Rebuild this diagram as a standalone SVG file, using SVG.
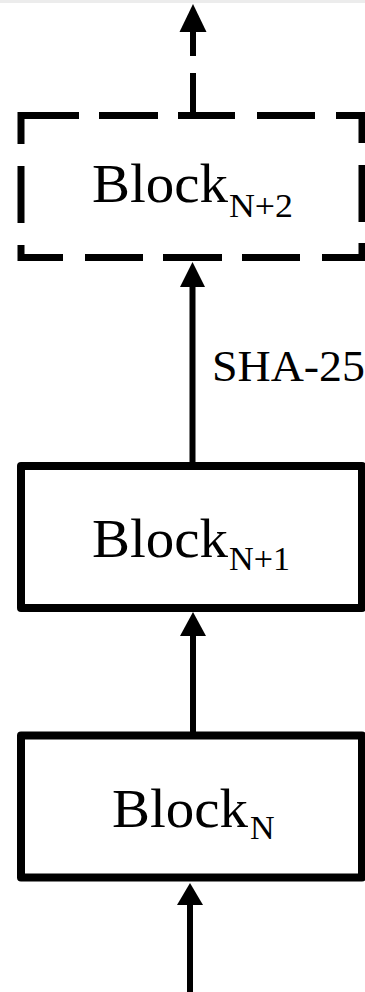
<svg xmlns="http://www.w3.org/2000/svg" width="365" height="992" viewBox="0 0 365 992">
<style>
.box{fill:none;stroke:#000;stroke-width:8;stroke-linejoin:round}
.dash{fill:none;stroke:#000;stroke-width:7;stroke-linecap:butt;stroke-linejoin:miter}
.shaft{fill:none;stroke:#000;stroke-width:6}
.head{fill:#000;stroke:none}
.lbl{font-family:"Liberation Serif","Times New Roman",serif;font-size:54px;fill:#000}
.sub{font-family:"Liberation Serif","Times New Roman",serif;font-size:34px;fill:#000}
.edge{font-family:"Liberation Serif","Times New Roman",serif;font-size:44px;fill:#000}
</style>
<rect x="0" y="0" width="365" height="992" fill="#fff"/>
<rect x="0" y="0" width="365" height="3" fill="#ececec"/>
<g id="connectors">
  <line class="shaft" x1="193" y1="30" x2="193" y2="56"/>
  <line class="shaft" x1="193" y1="73" x2="193" y2="113"/>
  <polygon class="head" points="193,4 179.5,32 206.5,32"/>
  <line class="shaft" x1="192.5" y1="285" x2="192.5" y2="463"/>
  <polygon class="head" points="192.5,262 180,287 205,287"/>
  <line class="shaft" x1="193" y1="634" x2="193" y2="733"/>
  <polygon class="head" points="193,612 180,636 206,636"/>
  <line class="shaft" x1="190" y1="903" x2="190" y2="992"/>
  <polygon class="head" points="190,883 177,905 203,905"/>
  <text class="edge" x="212" y="381" textLength="153" lengthAdjust="spacingAndGlyphs">SHA-25</text>
</g>
<g id="blockN2">
  <path class="dash" d="M21,144 V115.5 H79 M99,115.5 H158 M178,115.5 H235 M257,115.5 H315 M336,115.5 H362 V143 M21,166 V223 M362,165 V222 M21,245 V257.5 H63 M85,257.5 H143 M163,257.5 H222 M242,257.5 H300 M322,257.5 H362 V243"/>
  <text class="lbl" x="92" y="202" textLength="136" lengthAdjust="spacingAndGlyphs">Block</text>
  <text class="sub" x="229" y="217" textLength="64" lengthAdjust="spacingAndGlyphs">N+2</text>
</g>
<g id="blockN1">
  <rect class="box" x="21" y="466" width="341" height="142"/>
  <text class="lbl" x="92" y="557" textLength="136" lengthAdjust="spacingAndGlyphs">Block</text>
  <text class="sub" x="229" y="570" textLength="61" lengthAdjust="spacingAndGlyphs">N+1</text>
</g>
<g id="blockN">
  <rect class="box" x="21" y="735.5" width="341" height="142"/>
  <text class="lbl" x="112" y="827" textLength="136" lengthAdjust="spacingAndGlyphs">Block</text>
  <text class="sub" x="250" y="839">N</text>
</g>
</svg>
